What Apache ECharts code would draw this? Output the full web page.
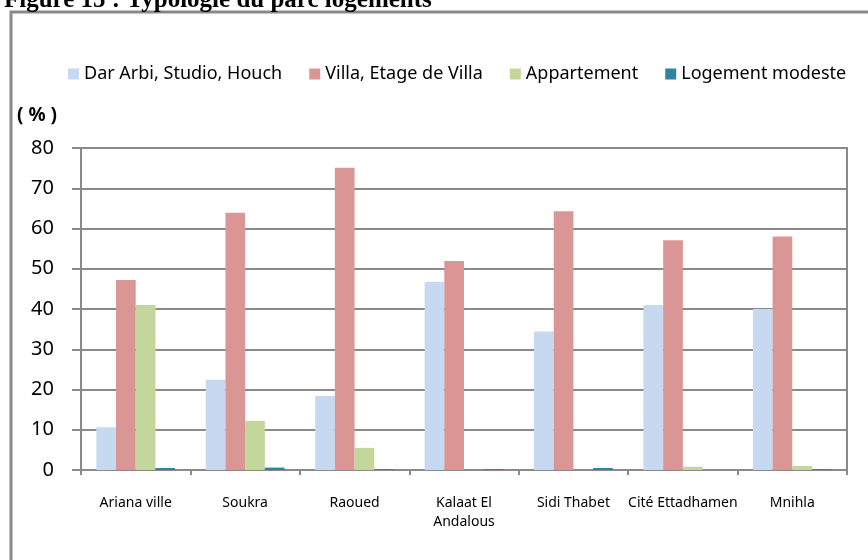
<!DOCTYPE html>
<html>
<head>
<meta charset="utf-8">
<script src="https://cdn.jsdelivr.net/npm/echarts@6/dist/echarts.min.js"></script>
<style>
  html, body { margin: 0; padding: 0; background: #fff; }
  #main { width: 868px; height: 560px; }
</style>
</head>
<body>
<div id="main"></div>
<script>
var communes = ['Ariana ville', 'Soukra', 'Raoued', 'Kalaat El Andalous', 'Sidi Thabet', 'Cité Ettadhamen', 'Mnihla'];
var darArbi = [10.6, 22.4, 18.4, 46.8, 34.4, 41.0, 40.0];
var villa = [47.2, 63.9, 75.1, 51.9, 64.3, 57.1, 58.0];
var appartement = [41.0, 12.2, 5.5, 0, 0, 0.8, 1.0];
var modeste = [0.5, 0.6, 0.2, 0.2, 0.5, 0, 0.2];
var yTicks = [0, 10, 20, 30, 40, 50, 60, 70, 80];

var myChart = echarts.init(document.getElementById('main'));
var fontFamily = '"Noto Sans", sans-serif',
    gridColor = '#8a8a8a',
    colors = ['#c6d9f1', '#d99694', '#c3d69b', '#31849b'];

var option = {
    animation: false,
    color: colors,
    title: {
        text: 'Figure 15 : Typologie du parc logements',
        left: -1,
        top: -17,
        textStyle: {
            fontFamily: '"Liberation Serif", serif',
            fontWeight: 'bold',
            fontSize: 25,
            color: '#000'
        }
    },
    graphic: [{
        // cadre du graphique
        type: 'rect',
        shape: { x: 11, y: 12, width: 880, height: 580 },
        style: { fill: 'none', stroke: '#898989', lineWidth: 3 }
    }, {
        type: 'text',
        left: 17,
        top: 106,
        style: {
            text: '( % )',
            font: 'bold 19px "Noto Sans", sans-serif',
            fill: '#000'
        }
    }],
    legend: {
        left: 63,
        top: 60,
        itemWidth: 11,
        itemHeight: 11,
        itemGap: 27,
        icon: 'rect',
        textStyle: { fontFamily: fontFamily, fontSize: 18, color: '#000' },
        data: ['Dar Arbi, Studio, Houch', 'Villa, Etage de Villa', 'Appartement', 'Logement modeste']
    },
    grid: {
        left: 81,
        right: 21,
        top: 148,
        bottom: 90,
        show: true,
        borderColor: gridColor,
        borderWidth: 2
    },
    xAxis: {
        type: 'category',
        data: communes,
        axisLine: { lineStyle: { color: gridColor, width: 2 } },
        axisTick: { show: true, length: 5, lineStyle: { color: gridColor, width: 2 } },
        axisLabel: {
            interval: 0,
            margin: 24,
            fontFamily: fontFamily,
            fontSize: 14,
            lineHeight: 19,
            color: '#000',
            // les noms trop longs passent sur deux lignes
            formatter: function (name) {
                if (name.length > 16) {
                    var i = name.lastIndexOf(' ');
                    return name.slice(0, i) + '\n' + name.slice(i + 1);
                }
                return name;
            }
        }
    },
    yAxis: {
        type: 'value',
        min: yTicks[0],
        max: yTicks[yTicks.length - 1],
        interval: 10,
        axisLine: { show: true, lineStyle: { color: gridColor, width: 2 } },
        axisTick: { show: true, length: 9, lineStyle: { color: gridColor, width: 2 } },
        splitLine: { lineStyle: { color: gridColor, width: 2 } },
        axisLabel: {
            margin: 27,
            fontFamily: fontFamily,
            fontSize: 20,
            color: '#000'
        }
    },
    series: [{
        name: 'Dar Arbi, Studio, Houch',
        type: 'bar',
        data: darArbi,
        barGap: '0%',
        barCategoryGap: '28%'
    }, {
        name: 'Villa, Etage de Villa',
        type: 'bar',
        data: villa
    }, {
        name: 'Appartement',
        type: 'bar',
        data: appartement
    }, {
        name: 'Logement modeste',
        type: 'bar',
        data: modeste
    }]
};
myChart.setOption(option);
</script>
</body>
</html>
